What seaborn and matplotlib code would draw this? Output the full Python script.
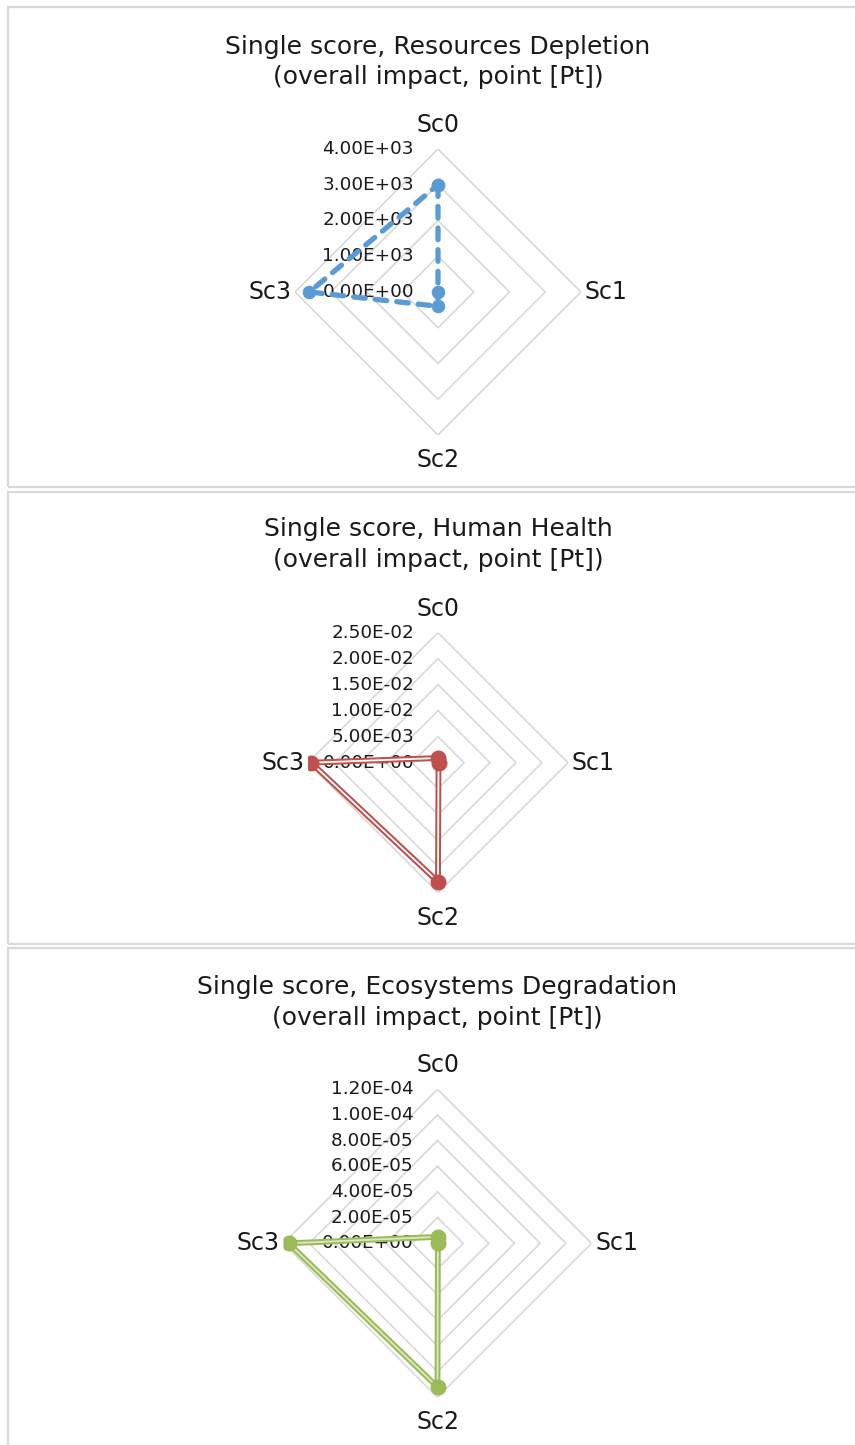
"""
Single-score radar charts (Resources / Human Health / Ecosystems), stacked panels
"""

import numpy as np
import pandas as pd
import matplotlib
matplotlib.use('Agg')
import matplotlib.pyplot as plt
from matplotlib.patches import Rectangle
import seaborn as sns

# =============================================================================
# 1. Data
# =============================================================================

categories = ['Sc0', 'Sc1', 'Sc2', 'Sc3']

resources_values = [3000, 0, 400, 3600]
health_values = [0.0009, 0.0001, 0.0229, 0.0244]
ecosystems_values = [5.0e-6, 3.0e-7, 1.12e-4, 1.16e-4]

resources_ticks = [0, 1000, 2000, 3000, 4000]
health_ticks = [0, 0.005, 0.010, 0.015, 0.020, 0.025]
ecosystems_ticks = [0, 2e-5, 4e-5, 6e-5, 8e-5, 1.0e-4, 1.2e-4]

titles = [
    'Single score, Resources Depletion\n(overall impact, point [Pt])',
    'Single score, Human Health\n(overall impact, point [Pt])',
    'Single score, Ecosystems Degradation\n(overall impact, point [Pt])',
]

# =============================================================================
# 2. Layout (pixels, top-down) & styles
# =============================================================================

W, H = 855, 1445
plt.rcParams['font.family'] = ['DejaVu Sans']

fig = plt.figure(figsize=(W / 100, H / 100), dpi=100)
fig.patch.set_facecolor('white')

panels = [
    dict(values=resources_values, ticks=resources_ticks, title=titles[0],
         center=(438, 292), radius=143, box=(7.3, 486.7), title_y=62,
         color='#5B9BD5', style='dashed'),
    dict(values=health_values, ticks=health_ticks, title=titles[1],
         center=(438, 762.7), radius=130, box=(492, 944.3), title_y=544.5,
         color='#C0504D', style='double'),
    dict(values=ecosystems_values, ticks=ecosystems_ticks, title=titles[2],
         center=(437.5, 1243.3), radius=154, box=(948.3, 1460), title_y=1002.5,
         color='#9BBB59', style='double'),
]

theta = np.deg2rad(np.arange(len(categories)) * 360 / len(categories))
theta_closed = np.append(theta, theta[0])

for p in panels:
    # panel frame
    top, bottom = p['box']
    fig.add_artist(Rectangle((8 / W, 1 - bottom / H), 880 / W, (bottom - top) / H,
                             transform=fig.transFigure, fill=False,
                             edgecolor='#D9D9D9', linewidth=1.6))
    fig.text(p['center'][0] / W, 1 - p['title_y'] / H, p['title'],
             ha='center', va='center', fontsize=18, color='#1a1a1a', linespacing=1.35)

    cx, cy = p['center']
    r = p['radius']
    ax = fig.add_axes([(cx - r) / W, 1 - (cy + r) / H, 2 * r / W, 2 * r / H],
                      projection='polar')
    ax.set_theta_zero_location('N')
    ax.set_theta_direction(-1)
    rmax = p['ticks'][-1]
    ax.set_ylim(0, rmax)
    ax.grid(False)
    ax.spines['polar'].set_visible(False)
    ax.set_xticks([])
    ax.set_yticks([])
    ax.patch.set_alpha(0)

    # polygon gridlines
    for t in p['ticks'][1:]:
        ax.plot(theta_closed, [t] * len(theta_closed), color='#D9D9D9',
                linewidth=1.2, zorder=1)

    # radial tick labels, right aligned left of the Sc0 axis
    for t in p['ticks']:
        ax.annotate(f'{t:.2E}', xy=(0, t), xytext=(-24, 0), textcoords='offset pixels',
                    ha='right', va='center', fontsize=13.2, color='#1a1a1a',
                    annotation_clip=False, zorder=2)

    # category labels
    offsets = [(0, 24), (25, 0), (0, -25), (-25, 0)]
    for ang, name, off in zip(theta, categories, offsets):
        ax.annotate(name, xy=(ang, rmax), xytext=off, textcoords='offset pixels',
                    ha='center', va='center', fontsize=17, color='#1a1a1a',
                    annotation_clip=False)

    df = pd.DataFrame({
        'theta': theta_closed,
        'value': np.append(p['values'], p['values'][0]),
    })

    if p['style'] == 'dashed':
        sns.lineplot(data=df, x='theta', y='value', ax=ax, sort=False, estimator=None,
                     color=p['color'], linewidth=3.8, linestyle=(0, (2.2, 1.9)),
                     dash_capstyle='round', marker='o', markersize=9,
                     markeredgecolor=p['color'], legend=False, zorder=4)
    else:
        inner = '#FFFFFF' if p['color'] == '#C0504D' else '#DCE8C4'
        sns.lineplot(data=df, x='theta', y='value', ax=ax, sort=False, estimator=None,
                     color=p['color'], linewidth=4.2, legend=False, zorder=4)
        sns.lineplot(data=df, x='theta', y='value', ax=ax, sort=False, estimator=None,
                     color=inner, linewidth=1.3, legend=False, zorder=5)
        ax.plot(theta, p['values'], linestyle='none', marker='o', markersize=10.5,
                color=p['color'], zorder=6)
    ax.set_xlabel('')
    ax.set_ylabel('')

fig.savefig('out.png', dpi=100, facecolor='white')
